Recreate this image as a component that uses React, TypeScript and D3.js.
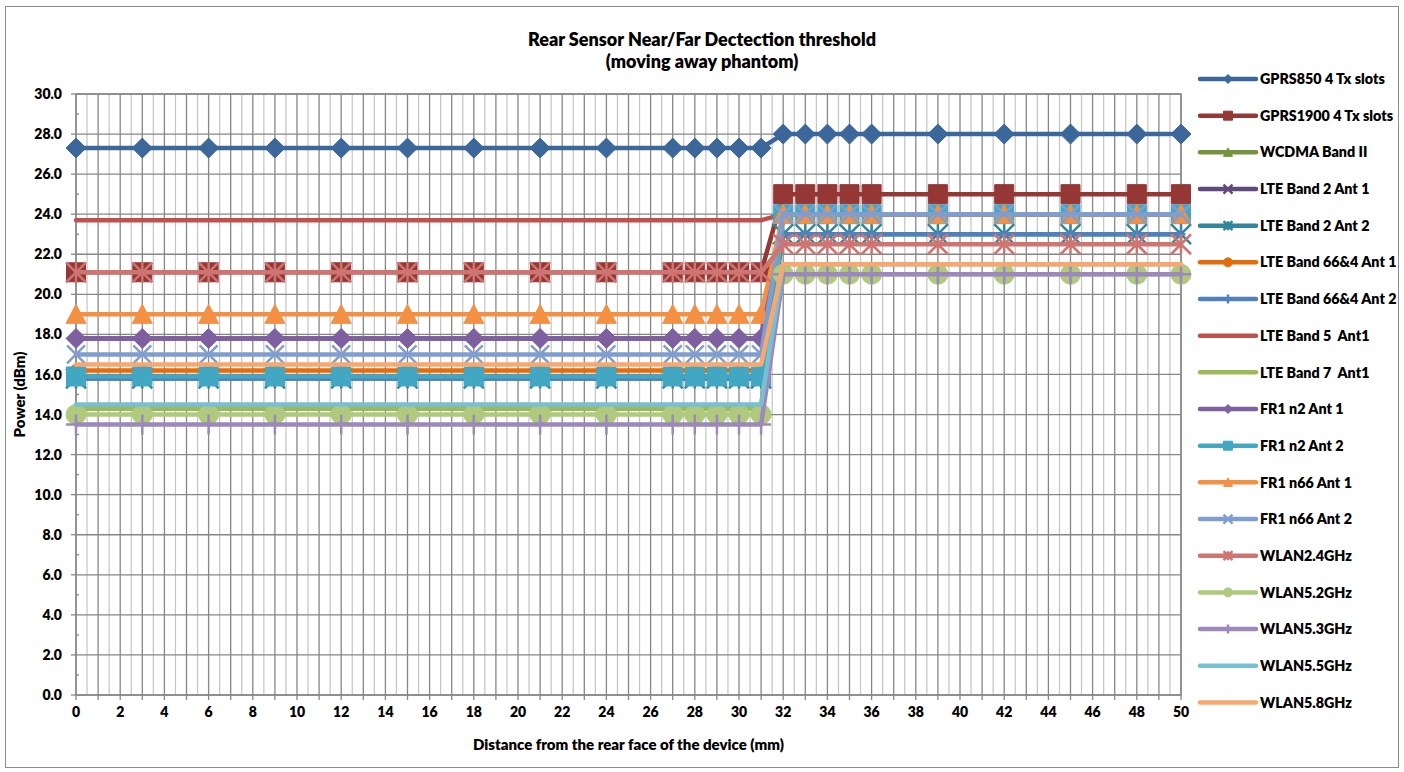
import React from 'react';
import * as d3 from 'd3';

const distances = [0, 3, 6, 9, 12, 15, 18, 21, 24, 27, 28, 29, 30, 31, 32, 33, 34, 35, 36, 39, 42, 45, 48, 50];

const seriesNames = [
  'GPRS850 4 Tx slots', 'GPRS1900 4 Tx slots', 'WCDMA Band II', 'LTE Band 2 Ant 1', 'LTE Band 2 Ant 2',
  'LTE Band 66&4 Ant 1', 'LTE Band 66&4 Ant 2', 'LTE Band 5  Ant1', 'LTE Band 7  Ant1', 'FR1 n2 Ant 1',
  'FR1 n2 Ant 2', 'FR1 n66 Ant 1', 'FR1 n66 Ant 2', 'WLAN2.4GHz', 'WLAN5.2GHz', 'WLAN5.3GHz', 'WLAN5.5GHz', 'WLAN5.8GHz',
];

const gprs850 = [27.3, 27.3, 27.3, 27.3, 27.3, 27.3, 27.3, 27.3, 27.3, 27.3, 27.3, 27.3, 27.3, 27.3, 28.0, 28.0, 28.0, 28.0, 28.0, 28.0, 28.0, 28.0, 28.0, 28.0];
const gprs1900 = [21.1, 21.1, 21.1, 21.1, 21.1, 21.1, 21.1, 21.1, 21.1, 21.1, 21.1, 21.1, 21.1, 21.1, 25.0, 25.0, 25.0, 25.0, 25.0, 25.0, 25.0, 25.0, 25.0, 25.0];
const wcdmaB2 = [14.3, 14.3, 14.3, 14.3, 14.3, 14.3, 14.3, 14.3, 14.3, 14.3, 14.3, 14.3, 14.3, 14.3, 24.0, 24.0, 24.0, 24.0, 24.0, 24.0, 24.0, 24.0, 24.0, 24.0];
const lteB2Ant1 = [17.8, 17.8, 17.8, 17.8, 17.8, 17.8, 17.8, 17.8, 17.8, 17.8, 17.8, 17.8, 17.8, 17.8, 24.0, 24.0, 24.0, 24.0, 24.0, 24.0, 24.0, 24.0, 24.0, 24.0];
const lteB2Ant2 = [15.8, 15.8, 15.8, 15.8, 15.8, 15.8, 15.8, 15.8, 15.8, 15.8, 15.8, 15.8, 15.8, 15.8, 23.0, 23.0, 23.0, 23.0, 23.0, 23.0, 23.0, 23.0, 23.0, 23.0];
const lteB66Ant1 = [16.2, 16.2, 16.2, 16.2, 16.2, 16.2, 16.2, 16.2, 16.2, 16.2, 16.2, 16.2, 16.2, 16.2, 24.0, 24.0, 24.0, 24.0, 24.0, 24.0, 24.0, 24.0, 24.0, 24.0];
const lteB66Ant2 = [15.8, 15.8, 15.8, 15.8, 15.8, 15.8, 15.8, 15.8, 15.8, 15.8, 15.8, 15.8, 15.8, 15.8, 23.0, 23.0, 23.0, 23.0, 23.0, 23.0, 23.0, 23.0, 23.0, 23.0];
const lteB5Ant1 = [23.7, 23.7, 23.7, 23.7, 23.7, 23.7, 23.7, 23.7, 23.7, 23.7, 23.7, 23.7, 23.7, 23.7, 24.0, 24.0, 24.0, 24.0, 24.0, 24.0, 24.0, 24.0, 24.0, 24.0];
const lteB7Ant1 = [14.3, 14.3, 14.3, 14.3, 14.3, 14.3, 14.3, 14.3, 14.3, 14.3, 14.3, 14.3, 14.3, 14.3, 24.0, 24.0, 24.0, 24.0, 24.0, 24.0, 24.0, 24.0, 24.0, 24.0];
const fr1n2Ant1 = [17.8, 17.8, 17.8, 17.8, 17.8, 17.8, 17.8, 17.8, 17.8, 17.8, 17.8, 17.8, 17.8, 17.8, 24.0, 24.0, 24.0, 24.0, 24.0, 24.0, 24.0, 24.0, 24.0, 24.0];
const fr1n2Ant2 = [15.9, 15.9, 15.9, 15.9, 15.9, 15.9, 15.9, 15.9, 15.9, 15.9, 15.9, 15.9, 15.9, 15.9, 24.0, 24.0, 24.0, 24.0, 24.0, 24.0, 24.0, 24.0, 24.0, 24.0];
const fr1n66Ant1 = [19.0, 19.0, 19.0, 19.0, 19.0, 19.0, 19.0, 19.0, 19.0, 19.0, 19.0, 19.0, 19.0, 19.0, 24.0, 24.0, 24.0, 24.0, 24.0, 24.0, 24.0, 24.0, 24.0, 24.0];
const fr1n66Ant2 = [17.0, 17.0, 17.0, 17.0, 17.0, 17.0, 17.0, 17.0, 17.0, 17.0, 17.0, 17.0, 17.0, 17.0, 24.0, 24.0, 24.0, 24.0, 24.0, 24.0, 24.0, 24.0, 24.0, 24.0];
const wlan24 = [21.1, 21.1, 21.1, 21.1, 21.1, 21.1, 21.1, 21.1, 21.1, 21.1, 21.1, 21.1, 21.1, 21.1, 22.5, 22.5, 22.5, 22.5, 22.5, 22.5, 22.5, 22.5, 22.5, 22.5];
const wlan52 = [14.0, 14.0, 14.0, 14.0, 14.0, 14.0, 14.0, 14.0, 14.0, 14.0, 14.0, 14.0, 14.0, 14.0, 21.0, 21.0, 21.0, 21.0, 21.0, 21.0, 21.0, 21.0, 21.0, 21.0];
const wlan53 = [13.5, 13.5, 13.5, 13.5, 13.5, 13.5, 13.5, 13.5, 13.5, 13.5, 13.5, 13.5, 13.5, 13.5, 21.0, 21.0, 21.0, 21.0, 21.0, 21.0, 21.0, 21.0, 21.0, 21.0];
const wlan55 = [14.5, 14.5, 14.5, 14.5, 14.5, 14.5, 14.5, 14.5, 14.5, 14.5, 14.5, 14.5, 14.5, 14.5, 21.5, 21.5, 21.5, 21.5, 21.5, 21.5, 21.5, 21.5, 21.5, 21.5];
const wlan58 = [16.5, 16.5, 16.5, 16.5, 16.5, 16.5, 16.5, 16.5, 16.5, 16.5, 16.5, 16.5, 16.5, 16.5, 21.5, 21.5, 21.5, 21.5, 21.5, 21.5, 21.5, 21.5, 21.5, 21.5];

const seriesValues = [
  gprs850, gprs1900, wcdmaB2, lteB2Ant1, lteB2Ant2, lteB66Ant1, lteB66Ant2, lteB5Ant1, lteB7Ant1,
  fr1n2Ant1, fr1n2Ant2, fr1n66Ant1, fr1n66Ant2, wlan24, wlan52, wlan53, wlan55, wlan58,
];

const seriesColors = [
  '#3B679B', '#953735', '#77933C', '#604A7B', '#31859C', '#E46C0A', '#4F81BD', '#C0504D', '#9BBB59',
  '#7E5FA0', '#41A7C2', '#F39043', '#7F9ECF', '#CE7572', '#AFCA7D', '#9C88BA', '#78BFD3', '#F8A86F',
];

const seriesMarkers = [
  'diamond', 'square', 'triangle', 'x', 'star', 'circle', 'plus', 'none', 'none',
  'diamond', 'square', 'triangle', 'x', 'star', 'circle', 'plus', 'none', 'none',
];
const seriesMarkerSizes = [20, 19, 9, 9, 20, 12, 9, 0, 0, 20, 19, 20, 18, 20, 20, 20, 0, 0];

const xTicks = d3.range(0, 51, 2);
const yTicks = d3.range(0, 31, 2);

const FONT = "Lato, 'Open Sans', 'Liberation Sans', sans-serif";
const WEIGHT = 800;

function markerPath(type: string, s: number): string {
  const h = s / 2;
  switch (type) {
    case 'diamond': return `M0,${-h}L${h},0L0,${h}L${-h},0Z`;
    case 'square': return `M${-h},${-h}H${h}V${h}H${-h}Z`;
    case 'triangle': return `M0,${-h}L${h},${h * 0.9}L${-h},${h * 0.9}Z`;
    case 'circle': return `M${h},0A${h},${h} 0 1,1 ${-h},0A${h},${h} 0 1,1 ${h},0Z`;
    case 'x': return `M${-h},${-h}L${h},${h}M${-h},${h}L${h},${-h}`;
    case 'star': return `M${-h},${-h}L${h},${h}M${-h},${h}L${h},${-h}M0,${-h}V${h}`;
    case 'plus': return `M${-h},0H${h}M0,${-h}V${h}`;
    default: return '';
  }
}
const filledTypes = new Set(['diamond', 'square', 'triangle', 'circle']);

function Marker({ type, size, color, cx, cy }: { type: string; size: number; color: string; cx: number; cy: number }) {
  if (type === 'none' || size <= 0) return null;
  const filled = filledTypes.has(type);
  return (
    <path
      d={markerPath(type, size)}
      transform={`translate(${cx},${cy})`}
      fill={filled ? color : 'none'}
      stroke={color}
      strokeWidth={filled ? 1 : 2.5}
    />
  );
}

export default function App() {
  const W = 1404;
  const H = 772;
  const x = d3.scaleLinear().domain([0, 50]).range([76, 1181]);
  const y = d3.scaleLinear().domain([0, 30]).range([695, 94]);
  const line = d3.line<[number, number]>().x((d) => x(d[0])).y((d) => y(d[1]));

  const minorX = d3.range(0.5, 50, 1);
  const majorX = d3.range(0, 51, 1);
  const minorY = d3.range(1, 30, 2);

  const legendX = 1200;
  const legendY0 = 79;
  const legendStep = 36.67;

  return (
    <svg
      width={W}
      height={H}
      style={{ position: 'absolute', left: 0, top: 0, background: '#fff' }}
      fontFamily={FONT}
    >
      <rect x={0} y={0} width={W} height={H} fill="#fff" />
      <rect x={5.5} y={6.5} width={1393} height={761} fill="#fff" stroke="#8C8C8C" strokeWidth={1} />

      {/* gridlines */}
      {minorX.map((v) => (
        <line key={'mx' + v} x1={x(v)} x2={x(v)} y1={y(30)} y2={y(0)} stroke="#C4C4C4" strokeWidth={1.2} />
      ))}
      {majorX.map((v) => (
        <line key={'Mx' + v} x1={x(v)} x2={x(v)} y1={y(30)} y2={y(0)} stroke="#868686" strokeWidth={1.3} />
      ))}
      {yTicks.map((v) => (
        <line key={'My' + v} x1={x(0)} x2={x(50)} y1={y(v)} y2={y(v)} stroke="#868686" strokeWidth={1.3} />
      ))}
      <rect x={x(0)} y={y(30)} width={x(50) - x(0)} height={y(0) - y(30)} fill="none" stroke="#868686" strokeWidth={1.3} />

      {/* axis ticks */}
      {majorX.map((v) => (
        <line key={'tx' + v} x1={x(v)} x2={x(v)} y1={y(0)} y2={y(0) + 5} stroke="#868686" strokeWidth={1.3} />
      ))}
      {yTicks.map((v) => (
        <line key={'ty' + v} x1={x(0) - 5} x2={x(0)} y1={y(v)} y2={y(v)} stroke="#868686" strokeWidth={1.3} />
      ))}
      {minorY.map((v) => (
        <line key={'tmy' + v} x1={x(0)} x2={x(0) + 3} y1={y(v)} y2={y(v)} stroke="#868686" strokeWidth={1.3} />
      ))}

      {/* tick labels */}
      {xTicks.map((v) => (
        <text key={'lx' + v} x={x(v)} y={y(0) + 22} textAnchor="middle" fontSize={14} fontWeight={WEIGHT} fill="#000">
          {v}
        </text>
      ))}
      {yTicks.map((v) => (
        <text key={'ly' + v} x={x(0) - 14} y={y(v)} dy="0.36em" textAnchor="end" fontSize={14} fontWeight={WEIGHT} fill="#000">
          {v.toFixed(1)}
        </text>
      ))}

      {/* series */}
      {seriesValues.map((vals, i) => {
        const pts: [number, number][] = distances.map((d, j) => [d, vals[j]]);
        return (
          <g key={'s' + i}>
            <path d={line(pts) || ''} fill="none" stroke={seriesColors[i]} strokeWidth={4.5} strokeLinejoin="round" strokeLinecap="round" />
            {pts.map((p, j) => (
              <Marker key={j} type={seriesMarkers[i]} size={seriesMarkerSizes[i]} color={seriesColors[i]} cx={x(p[0])} cy={y(p[1])} />
            ))}
          </g>
        );
      })}

      {/* titles */}
      <text x={702} y={46} textAnchor="middle" fontSize={18} fontWeight={WEIGHT} fill="#000">
        Rear Sensor Near/Far Dectection threshold
      </text>
      <text x={702} y={68} textAnchor="middle" fontSize={18} fontWeight={WEIGHT} fill="#000">
        (moving away phantom)
      </text>
      <text x={628.5} y={750} textAnchor="middle" fontSize={15} fontWeight={WEIGHT} fill="#000">
        Distance from the rear face of the device (mm)
      </text>
      <text
        transform={`translate(25,${(y(0) + y(30)) / 2}) rotate(-90)`}
        textAnchor="middle"
        fontSize={15}
        fontWeight={WEIGHT}
        fill="#000"
      >
        Power (dBm)
      </text>

      {/* legend */}
      {seriesNames.map((name, i) => {
        const ly = legendY0 + i * legendStep;
        return (
          <g key={'lg' + i}>
            <line x1={legendX} x2={legendX + 56} y1={ly} y2={ly} stroke={seriesColors[i]} strokeWidth={4.5} strokeLinecap="round" />
            <Marker type={seriesMarkers[i]} size={seriesMarkers[i] === 'none' ? 0 : 9} color={seriesColors[i]} cx={legendX + 28} cy={ly} />
            <text x={legendX + 60} y={ly} dy="0.36em" fontSize={14.3} fontWeight={WEIGHT} fill="#000" style={{ whiteSpace: 'pre' }}>
              {name}
            </text>
          </g>
        );
      })}
    </svg>
  );
}
